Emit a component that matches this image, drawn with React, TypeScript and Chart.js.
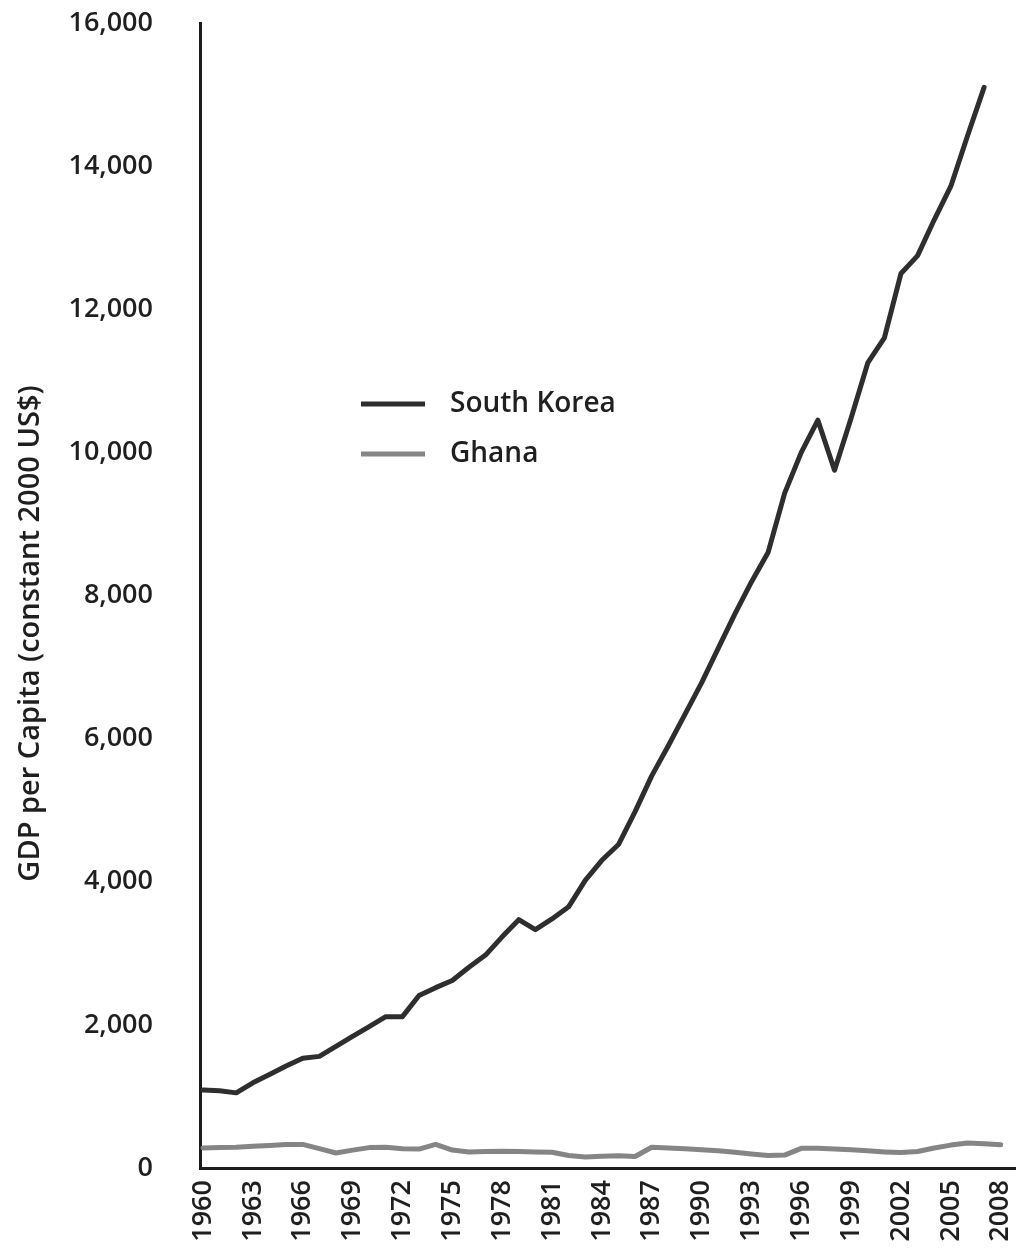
import React, { useEffect, useRef } from "react";
import { Chart, registerables } from "chart.js";

Chart.register(...registerables);

const years = [
  1960, 1961, 1962, 1963, 1964, 1965, 1966, 1967, 1968, 1969,
  1970, 1971, 1972, 1973, 1974, 1975, 1976, 1977, 1978, 1979,
  1980, 1981, 1982, 1983, 1984, 1985, 1986, 1987, 1988, 1989,
  1990, 1991, 1992, 1993, 1994, 1995, 1996, 1997, 1998, 1999,
  2000, 2001, 2002, 2003, 2004, 2005, 2006, 2007, 2008,
];

const tickYears = [
  1960, 1963, 1966, 1969, 1972, 1975, 1978, 1981, 1984, 1987,
  1990, 1993, 1996, 1999, 2002, 2005, 2008,
];

// South Korea, 1960-2007
const koreaValues = [
  1090, 1080, 1050, 1190, 1305, 1425, 1535, 1560, 1700, 1840,
  1975, 2115, 2115, 2410, 2520, 2620, 2805, 2975, 3230, 3470,
  3330, 3480, 3650, 4020, 4300, 4520, 4980, 5480, 5900, 6340,
  6780, 7260, 7740, 8190, 8600, 9430, 10000, 10450, 9750, 10480,
  11250, 11600, 12500, 12750, 13250, 13720, 14420, 15100,
];

// Ghana, 1960-2008
const ghanaValues = [
  280, 285, 290, 305, 315, 330, 330, 270, 210, 250,
  285, 290, 270, 265, 330, 250, 225, 230, 235, 230,
  225, 220, 175, 155, 165, 170, 160, 290, 280, 270,
  255, 240, 220, 195, 175, 180, 275, 275, 265, 255,
  240, 225, 215, 230, 280, 320, 350, 340, 325,
];

const seriesLabels = ["South Korea", "Ghana"];
const seriesColors = ["#2e2e2e", "#858585"];
const yTickValues = [0, 2000, 4000, 6000, 8000, 10000, 12000, 14000, 16000];
const yTitle = "GDP per Capita (constant 2000 US$)";

const FONT = "'Open Sans', 'Noto Sans', sans-serif";
const TEXT = "#1f1f1f";
const WEIGHT = "600";

const yTitlePlugin = {
  id: "yTitlePlugin",
  afterDraw(chart: any) {
    const { ctx, chartArea } = chart;
    ctx.save();
    const cy = (chartArea.top + chartArea.bottom) / 2 + 38;
    ctx.translate(39, cy);
    ctx.rotate(-Math.PI / 2);
    ctx.font = `${WEIGHT} 29px ${FONT}`;
    ctx.fillStyle = TEXT;
    ctx.textAlign = "center";
    ctx.textBaseline = "alphabetic";
    ctx.fillText(yTitle, 0, 0);
    ctx.restore();
  },
};

const legendPlugin = {
  id: "customLegend",
  afterDraw(chart: any) {
    const { ctx } = chart;
    ctx.save();
    chart.data.datasets.forEach((ds: any, i: number) => {
      const y = 404 + i * 50;
      ctx.strokeStyle = ds.borderColor;
      ctx.lineWidth = 5;
      ctx.lineCap = "butt";
      ctx.beginPath();
      ctx.moveTo(361, y);
      ctx.lineTo(425, y);
      ctx.stroke();
      ctx.font = `${WEIGHT} 28px ${FONT}`;
      ctx.fillStyle = TEXT;
      ctx.textAlign = "left";
      ctx.textBaseline = "middle";
      ctx.fillText(ds.label, 450, y);
    });
    ctx.restore();
  },
};

export default function App() {
  const canvasRef = useRef<HTMLCanvasElement | null>(null);

  useEffect(() => {
    if (!canvasRef.current) return;
    const koreaData = koreaValues.map((v, i) => ({ x: years[i], y: v }));
    const ghanaData = ghanaValues.map((v, i) => ({ x: years[i], y: v }));

    const chart = new Chart(canvasRef.current, {
      type: "line",
      data: {
        datasets: [
          {
            label: seriesLabels[0],
            data: koreaData,
            borderColor: seriesColors[0],
            backgroundColor: seriesColors[0],
            borderWidth: 5,
            pointRadius: 0,
            tension: 0,
            borderJoinStyle: "round",
            borderCapStyle: "round",
          },
          {
            label: seriesLabels[1],
            data: ghanaData,
            borderColor: seriesColors[1],
            backgroundColor: seriesColors[1],
            borderWidth: 5,
            pointRadius: 0,
            tension: 0,
            borderJoinStyle: "round",
            borderCapStyle: "round",
          },
        ],
      },
      options: {
        animation: false,
        responsive: true,
        maintainAspectRatio: false,
        layout: { padding: { top: 23, right: 4, left: 0, bottom: 0 } },
        plugins: {
          legend: { display: false },
          tooltip: { enabled: false },
          title: { display: false },
        },
        scales: {
          x: {
            type: "linear",
            min: 1959.82,
            max: 2008.86,
            grid: { display: false, drawTicks: false },
            border: { display: true, color: "#1c1c1c", width: 3 },
            ticks: {
              font: { family: FONT, size: 27, weight: WEIGHT },
              color: TEXT,
              padding: 12,
              autoSkip: false,
              maxRotation: 90,
              minRotation: 90,
              callback: (v: any) => String(v),
            },
            afterBuildTicks: (scale: any) => {
              scale.ticks = tickYears.map((v) => ({ value: v }));
            },
            afterFit: (scale: any) => {
              scale.height = 86;
              scale.paddingLeft = 0;
              scale.paddingRight = 0;
            },
          },
          y: {
            type: "linear",
            min: 0,
            max: 16000,
            grid: { display: false, drawTicks: false },
            border: { display: true, color: "#1c1c1c", width: 3 },
            ticks: {
              font: { family: FONT, size: 27, weight: WEIGHT },
              color: TEXT,
              padding: 47,
              callback: (v: any) => Number(v).toLocaleString("en-US"),
            },
            afterBuildTicks: (scale: any) => {
              scale.ticks = yTickValues.map((v) => ({ value: v }));
            },
            afterFit: (scale: any) => {
              scale.width = 200;
              scale.paddingTop = 0;
              scale.paddingBottom = 0;
            },
          },
        },
      },
      plugins: [yTitlePlugin, legendPlugin],
    });

    return () => {
      chart.destroy();
    };
  }, []);

  return (
    <div
      style={{
        position: "absolute",
        left: 0,
        top: 0,
        width: 1019,
        height: 1254,
        background: "#ffffff",
      }}
    >
      <canvas ref={canvasRef} />
    </div>
  );
}
